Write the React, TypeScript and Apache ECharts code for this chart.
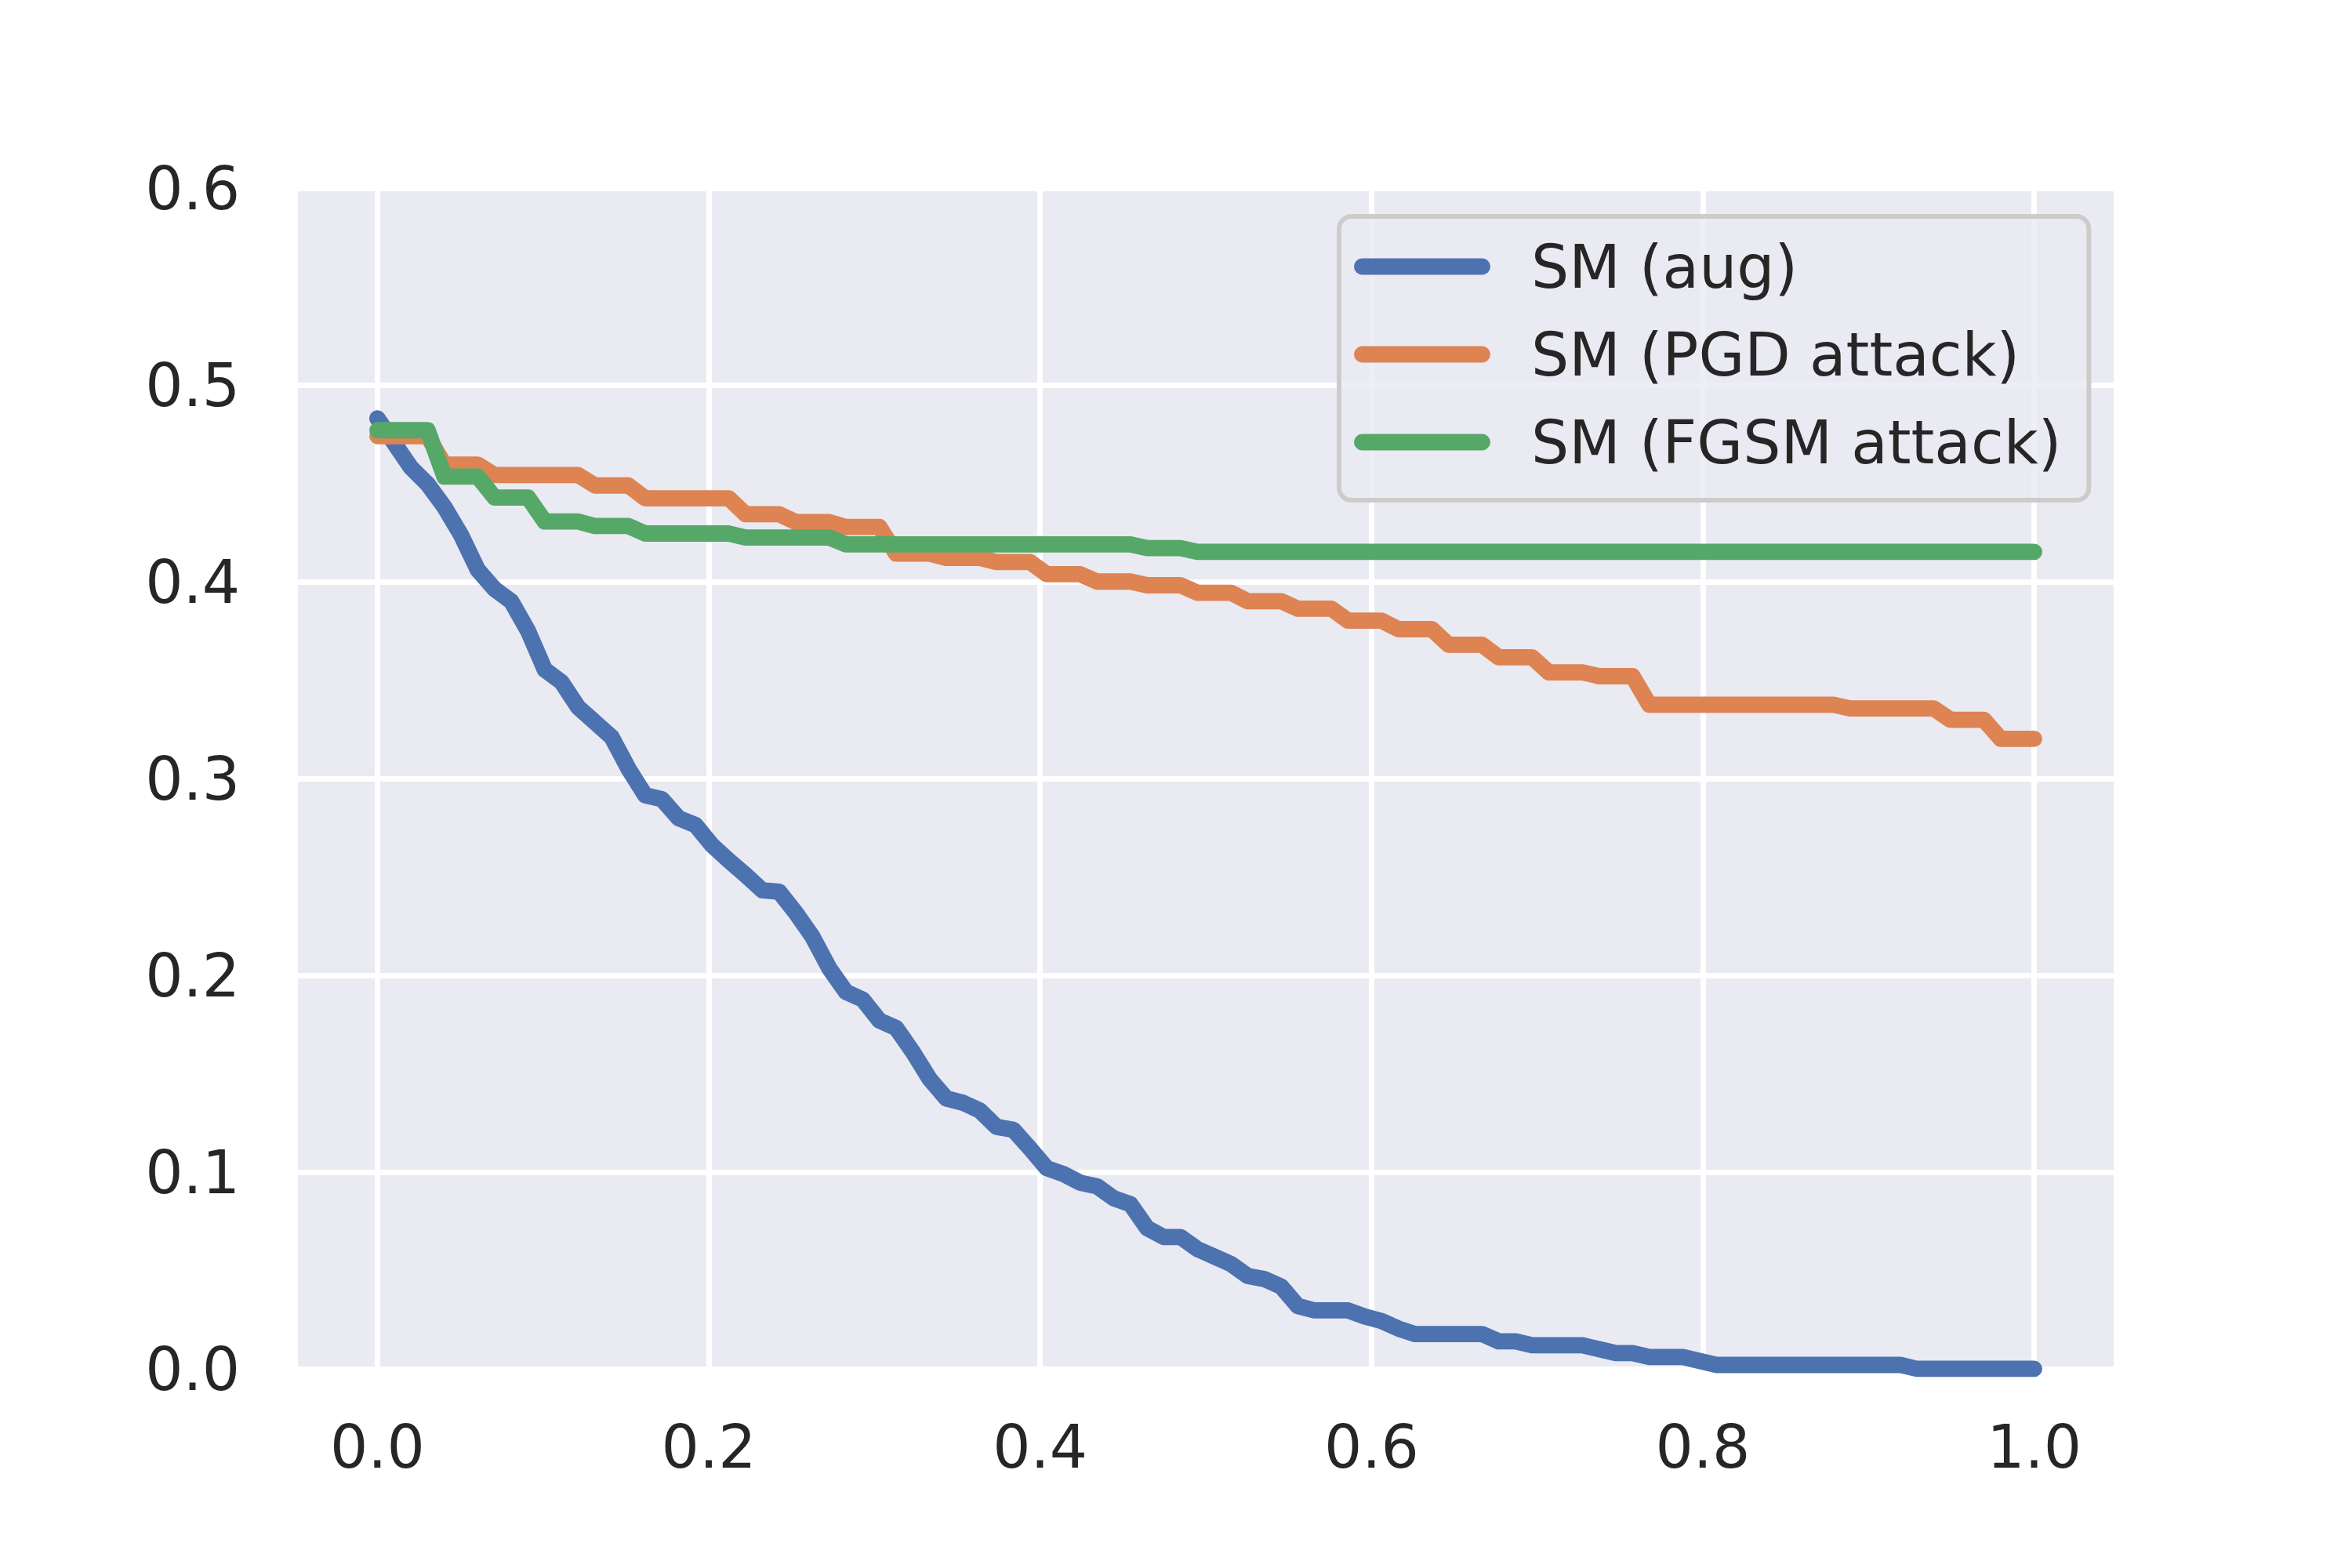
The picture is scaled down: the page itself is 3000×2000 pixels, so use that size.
import React, { useEffect, useRef } from "react";
import * as echarts from "echarts";

// x positions of the samples (100 evenly spaced thresholds from 0 to 1)
const X_VALUES = [
  0, 0.0101, 0.0202, 0.0303, 0.0404, 0.0505, 0.0606, 0.0707, 0.0808, 0.0909,
  0.101, 0.1111, 0.1212, 0.1313, 0.1414, 0.1515, 0.1616, 0.1717, 0.1818, 0.1919,
  0.202, 0.2121, 0.2222, 0.2323, 0.2424, 0.2525, 0.2626, 0.2727, 0.2828, 0.2929,
  0.303, 0.3131, 0.3232, 0.3333, 0.3434, 0.3535, 0.3636, 0.3737, 0.3838, 0.3939,
  0.404, 0.4141, 0.4242, 0.4343, 0.4444, 0.4545, 0.4646, 0.4747, 0.4848, 0.4949,
  0.5051, 0.5152, 0.5253, 0.5354, 0.5455, 0.5556, 0.5657, 0.5758, 0.5859, 0.596,
  0.6061, 0.6162, 0.6263, 0.6364, 0.6465, 0.6566, 0.6667, 0.6768, 0.6869, 0.697,
  0.7071, 0.7172, 0.7273, 0.7374, 0.7475, 0.7576, 0.7677, 0.7778, 0.7879, 0.798,
  0.8081, 0.8182, 0.8283, 0.8384, 0.8485, 0.8586, 0.8687, 0.8788, 0.8889, 0.899,
  0.9091, 0.9192, 0.9293, 0.9394, 0.9495, 0.9596, 0.9697, 0.9798, 0.9899, 1.0,
];

const SM_AUG = [
  0.483, 0.4705, 0.458, 0.4496, 0.438, 0.4237, 0.406, 0.3963, 0.39, 0.375,
  0.3553, 0.349, 0.3362, 0.3286, 0.321, 0.305, 0.2915, 0.2895, 0.2798, 0.2764,
  0.2661, 0.2583, 0.251, 0.2432, 0.2425, 0.2318, 0.2196, 0.2036, 0.1915, 0.1877,
  0.177, 0.1732, 0.161, 0.1473, 0.1374, 0.1352, 0.1313, 0.123, 0.1215, 0.112,
  0.102, 0.099, 0.0946, 0.0928, 0.0867, 0.0837, 0.0715, 0.067, 0.067, 0.0609,
  0.0571, 0.0533, 0.0472, 0.0456, 0.0418, 0.0319, 0.0297, 0.0297, 0.0297, 0.0266,
  0.0243, 0.0205, 0.0177, 0.0177, 0.0177, 0.0177, 0.0177, 0.014, 0.014, 0.012,
  0.012, 0.012, 0.012, 0.01, 0.008, 0.008, 0.006, 0.006, 0.006, 0.004,
  0.002, 0.002, 0.002, 0.002, 0.002, 0.002, 0.002, 0.002, 0.002, 0.002,
  0.002, 0.002, 0.0, 0.0, 0.0, 0.0, 0.0, 0.0, 0.0, 0.0,
];

const SM_PGD = [
  0.474, 0.474, 0.474, 0.474, 0.4595, 0.4595, 0.4595, 0.4542, 0.4542, 0.4542,
  0.4542, 0.4542, 0.4542, 0.4489, 0.4489, 0.4489, 0.4424, 0.4424, 0.4424, 0.4424,
  0.4424, 0.4424, 0.4343, 0.4343, 0.4343, 0.4303, 0.4303, 0.4303, 0.4278, 0.4278,
  0.4278, 0.4143, 0.4143, 0.4143, 0.4121, 0.4121, 0.4121, 0.41, 0.41, 0.41,
  0.4038, 0.4038, 0.4038, 0.4001, 0.4001, 0.4001, 0.3982, 0.3982, 0.3982, 0.3944,
  0.3944, 0.3944, 0.3901, 0.3901, 0.3901, 0.3863, 0.3863, 0.3863, 0.3802, 0.3802,
  0.3802, 0.3759, 0.3759, 0.3759, 0.368, 0.368, 0.368, 0.3616, 0.3616, 0.3616,
  0.3539, 0.3539, 0.3539, 0.352, 0.352, 0.352, 0.3375, 0.3375, 0.3375, 0.3375,
  0.3375, 0.3375, 0.3375, 0.3375, 0.3375, 0.3375, 0.3375, 0.3375, 0.3356, 0.3356,
  0.3356, 0.3356, 0.3356, 0.3356, 0.3298, 0.3298, 0.3298, 0.3202, 0.3202, 0.3202,
];

const SM_FGSM = [
  0.477, 0.477, 0.477, 0.477, 0.4534, 0.4534, 0.4534, 0.4428, 0.4428, 0.4428,
  0.4306, 0.4306, 0.4306, 0.4283, 0.4283, 0.4283, 0.4245, 0.4245, 0.4245, 0.4245,
  0.4245, 0.4245, 0.4225, 0.4225, 0.4225, 0.4225, 0.4225, 0.4225, 0.419, 0.419,
  0.419, 0.419, 0.419, 0.419, 0.419, 0.419, 0.419, 0.419, 0.419, 0.419,
  0.419, 0.419, 0.419, 0.419, 0.419, 0.419, 0.4171, 0.4171, 0.4171, 0.4152,
  0.4152, 0.4152, 0.4152, 0.4152, 0.4152, 0.4152, 0.4152, 0.4152, 0.4152, 0.4152,
  0.4152, 0.4152, 0.4152, 0.4152, 0.4152, 0.4152, 0.4152, 0.4152, 0.4152, 0.4152,
  0.4152, 0.4152, 0.4152, 0.4152, 0.4152, 0.4152, 0.4152, 0.4152, 0.4152, 0.4152,
  0.4152, 0.4152, 0.4152, 0.4152, 0.4152, 0.4152, 0.4152, 0.4152, 0.4152, 0.4152,
  0.4152, 0.4152, 0.4152, 0.4152, 0.4152, 0.4152, 0.4152, 0.4152, 0.4152, 0.4152,
];

const SERIES_NAMES = ["SM (aug)", "SM (PGD attack)", "SM (FGSM attack)"];
const SERIES_COLORS = ["#4C72B0", "#DD8452", "#55A868"];
const X_TICKS = [0, 0.2, 0.4, 0.6, 0.8, 1.0];

const FONT = "DejaVu Sans";
const TEXT_COLOR = "#262626";
const FONT_SIZE = 76;
const LINE_W = 20.8;

const CAPSULE =
  "path://M10.4,0H163.6A10.4,10.4,0,0,1,163.6,20.8H10.4A10.4,10.4,0,0,1,10.4,0Z";

function pairs(ys: number[]) {
  return ys.map((y, i) => [X_VALUES[i], y]);
}

export default function App() {
  const ref = useRef<HTMLDivElement>(null);

  useEffect(() => {
    document.body.style.margin = "0";
    if (!ref.current) return;
    const chart = echarts.init(ref.current, undefined, { renderer: "svg" });
    const allY = [SM_AUG, SM_PGD, SM_FGSM];
    chart.setOption({
      animation: false,
      backgroundColor: "#ffffff",
      textStyle: { fontFamily: FONT },
      grid: {
        left: 380,
        right: 304,
        top: 240,
        bottom: 254,
        show: true,
        backgroundColor: "#EAEAF2",
        borderWidth: 0,
      },
      xAxis: {
        type: "value",
        min: -0.048,
        max: 1.048,
        axisLine: { show: false },
        axisTick: { show: false, customValues: X_TICKS },
        axisLabel: {
          customValues: X_TICKS,
          formatter: (v: number) => v.toFixed(1),
          fontFamily: FONT,
          fontSize: FONT_SIZE,
          color: TEXT_COLOR,
          margin: 61,
        },
        splitLine: { show: true, lineStyle: { color: "#ffffff", width: 7 } },
      },
      yAxis: {
        type: "value",
        min: 0,
        max: 0.6,
        interval: 0.1,
        axisLine: { show: false },
        axisTick: { show: false },
        axisLabel: {
          formatter: (v: number) => v.toFixed(1),
          fontFamily: FONT,
          fontSize: FONT_SIZE,
          color: TEXT_COLOR,
          margin: 74,
        },
        splitLine: { show: true, lineStyle: { color: "#ffffff", width: 7 } },
      },
      legend: {
        orient: "vertical",
        left: 1708,
        top: 276,
        padding: [26, 35, 36, 19],
        itemGap: 36,
        itemWidth: 174,
        itemHeight: LINE_W,
        backgroundColor: "rgba(234,234,242,0.8)",
        borderColor: "#cccccc",
        borderWidth: 6,
        borderRadius: 16,
        data: SERIES_NAMES.map((n) => ({ name: n, icon: CAPSULE })),
        textStyle: {
          fontFamily: FONT,
          fontSize: FONT_SIZE,
          color: TEXT_COLOR,
          lineHeight: 76,
          padding: [0, 0, 0, 47],
        },
      },
      series: SERIES_NAMES.map((name, k) => ({
        name,
        type: "line",
        data: pairs(allY[k]),
        showSymbol: false,
        symbol: "none",
        color: SERIES_COLORS[k],
        lineStyle: {
          color: SERIES_COLORS[k],
          width: LINE_W,
          cap: "round",
          join: "round",
        },
        z: 2 + k,
      })),
    });
    return () => chart.dispose();
  }, []);

  return (
    <div
      ref={ref}
      style={{ width: 3000, height: 2000, position: "absolute", left: 0, top: 0 }}
    />
  );
}
